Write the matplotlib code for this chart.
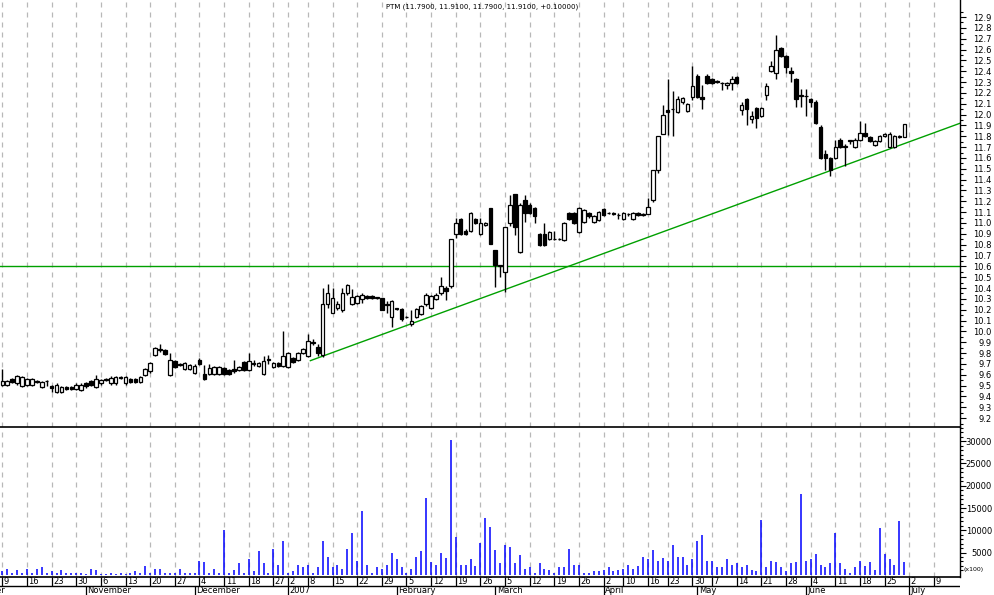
import numpy as np
import matplotlib
matplotlib.use("Agg")
import matplotlib.pyplot as plt

# Dane świecowe PTM (dzień po dniu, tylko dni z notowaniami)
opens = [9.51, 9.51, 9.56, 9.52, 9.50, 9.51, 9.51, 9.54, 9.49, 9.54,
         9.50, 9.44, 9.44, 9.49, 9.49, 9.47, 9.46, 9.52, 9.54, 9.49,
         9.52, 9.56, 9.52, 9.52, 9.57, 9.52, 9.56, 9.56, 9.53, 9.60,
         9.63, 9.78, 9.83, 9.83, 9.60, 9.73, 9.70, 9.65, 9.65, 9.62,
         9.74, 9.61, 9.61, 9.61, 9.61, 9.66, 9.64, 9.65, 9.64, 9.72,
         9.64, 9.71, 9.68, 9.61, 9.74, 9.67, 9.71, 9.68, 9.67, 9.75,
         9.74, 9.80, 9.77, 9.90, 9.86, 9.78, 10.25, 10.17, 10.22, 10.20,
         10.35, 10.25, 10.26, 10.30, 10.33, 10.33, 10.31, 10.31, 10.25, 10.13,
         10.21, 10.21, 10.13, 10.07, 10.13, 10.16, 10.25, 10.22, 10.30, 10.35,
         10.40, 10.42, 10.90, 11.04, 10.93, 10.93, 11.04, 10.90, 10.98, 11.14,
         10.75, 10.61, 10.55, 11.00, 11.27, 10.73, 11.21, 11.17, 11.14, 10.90,
         10.90, 10.85, 10.85, 10.85, 10.84, 11.09, 11.09, 10.92, 11.01, 11.09,
         11.01, 11.03, 11.13, 11.09, 11.09, 11.07, 11.04, 11.08, 11.04, 11.09,
         11.07, 11.08, 11.21, 11.49, 11.82, 12.04, 12.05, 12.02, 12.12, 12.03,
         12.16, 12.36, 12.16, 12.36, 12.33, 12.31, 12.29, 12.27, 12.29, 12.35,
         12.04, 12.14, 11.96, 12.06, 11.99, 12.18, 12.40, 12.38, 12.61, 12.54,
         12.40, 12.33, 12.18, 12.17, 12.14, 12.12, 11.89, 11.64, 11.60, 11.60,
         11.77, 11.70, 11.76, 11.70, 11.77, 11.83, 11.79, 11.72, 11.76, 11.80,
         11.70, 11.70, 11.79, 11.79]
highs = [9.65, 9.55, 9.57, 9.60, 9.59, 9.57, 9.57, 9.55, 9.54, 9.55,
         9.51, 9.52, 9.50, 9.50, 9.50, 9.52, 9.52, 9.53, 9.55, 9.60,
         9.56, 9.57, 9.59, 9.59, 9.59, 9.59, 9.57, 9.57, 9.59, 9.66,
         9.72, 9.86, 9.88, 9.84, 9.80, 9.74, 9.71, 9.72, 9.70, 9.70,
         9.75, 9.69, 9.70, 9.68, 9.68, 9.67, 9.65, 9.74, 9.68, 9.73,
         9.80, 9.74, 9.72, 9.77, 9.78, 9.72, 9.72, 10.00, 9.81, 9.76,
         9.81, 9.85, 9.98, 9.93, 9.88, 10.40, 10.44, 10.40, 10.28, 10.40,
         10.44, 10.39, 10.34, 10.35, 10.34, 10.34, 10.32, 10.31, 10.28, 10.29,
         10.22, 10.22, 10.14, 10.20, 10.22, 10.24, 10.35, 10.34, 10.35, 10.50,
         10.42, 10.85, 11.05, 11.05, 10.94, 11.10, 11.05, 11.05, 11.01, 11.14,
         10.75, 10.61, 10.96, 11.26, 11.27, 11.18, 11.26, 11.18, 11.15, 10.91,
         11.00, 10.93, 10.93, 10.86, 11.01, 11.10, 11.10, 11.15, 11.13, 11.10,
         11.07, 11.11, 11.14, 11.10, 11.10, 11.09, 11.10, 11.09, 11.10, 11.10,
         11.09, 11.23, 11.49, 11.80, 12.09, 12.33, 12.22, 12.17, 12.16, 12.11,
         12.45, 12.37, 12.27, 12.37, 12.34, 12.32, 12.30, 12.30, 12.36, 12.36,
         12.12, 12.15, 12.03, 12.07, 12.07, 12.29, 12.49, 12.73, 12.62, 12.55,
         12.44, 12.34, 12.24, 12.24, 12.15, 12.13, 11.90, 11.67, 11.61, 11.77,
         11.78, 11.73, 11.77, 11.78, 11.94, 11.92, 11.80, 11.77, 11.81, 11.83,
         11.84, 11.81, 11.81, 11.91]
lows = [9.50, 9.50, 9.52, 9.51, 9.49, 9.50, 9.50, 9.52, 9.48, 9.50,
        9.44, 9.43, 9.43, 9.46, 9.46, 9.46, 9.45, 9.48, 9.50, 9.48,
        9.51, 9.54, 9.51, 9.51, 9.56, 9.51, 9.52, 9.52, 9.52, 9.59,
        9.62, 9.77, 9.81, 9.78, 9.59, 9.66, 9.68, 9.64, 9.64, 9.61,
        9.69, 9.55, 9.60, 9.60, 9.60, 9.60, 9.60, 9.62, 9.63, 9.63,
        9.63, 9.68, 9.67, 9.60, 9.70, 9.66, 9.67, 9.67, 9.66, 9.71,
        9.73, 9.79, 9.76, 9.87, 9.77, 9.76, 10.22, 10.17, 10.20, 10.18,
        10.34, 10.24, 10.25, 10.26, 10.30, 10.30, 10.30, 10.20, 10.17, 10.04,
        10.20, 10.10, 10.12, 10.05, 10.12, 10.15, 10.23, 10.21, 10.29, 10.34,
        10.29, 10.40, 10.86, 10.89, 10.89, 10.92, 10.99, 10.89, 10.97, 10.81,
        10.41, 10.50, 10.36, 10.97, 10.89, 10.72, 11.01, 11.08, 11.00, 10.79,
        10.79, 10.84, 10.84, 10.84, 10.83, 11.03, 10.99, 10.91, 11.00, 11.05,
        11.00, 11.02, 11.06, 11.08, 11.07, 11.04, 11.03, 11.06, 11.03, 11.06,
        11.06, 11.08, 11.19, 11.46, 11.82, 11.81, 11.80, 12.01, 12.10, 12.02,
        12.13, 12.15, 12.05, 12.28, 12.28, 12.29, 12.23, 12.24, 12.23, 12.28,
        12.00, 11.90, 11.92, 11.88, 11.98, 12.13, 12.39, 12.33, 12.53, 12.38,
        12.30, 12.07, 12.07, 11.99, 12.07, 11.91, 11.59, 11.49, 11.43, 11.59,
        11.69, 11.53, 11.73, 11.69, 11.76, 11.79, 11.75, 11.71, 11.75, 11.79,
        11.69, 11.69, 11.78, 11.79]
closes = [9.54, 9.54, 9.53, 9.59, 9.58, 9.56, 9.56, 9.53, 9.53, 9.54,
          9.48, 9.51, 9.49, 9.47, 9.47, 9.51, 9.51, 9.50, 9.51, 9.56,
          9.55, 9.55, 9.57, 9.58, 9.58, 9.58, 9.53, 9.53, 9.58, 9.65,
          9.71, 9.85, 9.84, 9.79, 9.74, 9.67, 9.69, 9.71, 9.69, 9.68,
          9.70, 9.56, 9.66, 9.67, 9.67, 9.61, 9.61, 9.63, 9.67, 9.64,
          9.73, 9.70, 9.71, 9.73, 9.74, 9.71, 9.68, 9.77, 9.80, 9.72,
          9.80, 9.84, 9.91, 9.89, 9.80, 10.25, 10.35, 10.31, 10.25, 10.35,
          10.43, 10.32, 10.33, 10.34, 10.31, 10.31, 10.31, 10.20, 10.24, 10.28,
          10.21, 10.11, 10.13, 10.10, 10.21, 10.23, 10.34, 10.33, 10.34, 10.42,
          10.37, 10.85, 11.00, 10.90, 10.90, 11.09, 11.00, 11.00, 11.00, 10.81,
          10.61, 10.60, 10.96, 11.17, 10.96, 11.17, 11.09, 11.09, 11.06, 10.80,
          10.80, 10.92, 10.85, 10.85, 11.00, 11.04, 11.00, 11.14, 11.12, 11.06,
          11.06, 11.10, 11.07, 11.09, 11.08, 11.07, 11.09, 11.08, 11.09, 11.07,
          11.08, 11.15, 11.49, 11.80, 12.00, 12.02, 12.05, 12.14, 12.15, 12.10,
          12.26, 12.16, 12.14, 12.29, 12.29, 12.30, 12.29, 12.29, 12.33, 12.29,
          12.09, 12.05, 11.99, 11.97, 12.06, 12.26, 12.45, 12.60, 12.54, 12.44,
          12.38, 12.14, 12.17, 12.17, 12.12, 11.92, 11.60, 11.60, 11.49, 11.70,
          11.70, 11.71, 11.76, 11.77, 11.83, 11.80, 11.76, 11.76, 11.80, 11.82,
          11.82, 11.80, 11.80, 11.91]
volumes = [750, 1400, 500, 1000, 500, 1400, 500, 1200, 1650, 500,
           750, 500, 1000, 500, 300, 500, 500, 100, 1200, 1000,
           100, 100, 500, 100, 300, 100, 300, 750, 300, 1900,
           500, 1400, 1200, 500, 300, 500, 1200, 500, 500, 300,
           3200, 2800, 500, 1200, 500, 10000, 500, 1000, 2550, 500,
           3450, 750, 5250, 2550, 300, 5700, 2100, 7500, 300, 750,
           2300, 1650, 2100, 300, 1650, 7700, 3900, 1700, 2100, 1200,
           5700, 9300, 3000, 14250, 2100, 500, 1650, 1200, 2100, 5000,
           3450, 1650, 500, 1400, 4100, 5250, 17200, 2800, 2100, 5000,
           3700, 30250, 8400, 2100, 2300, 3450, 1900, 7050, 12700, 10650,
           5500, 2550, 6800, 6150, 2550, 4350, 1400, 1650, 500, 2550,
           1400, 1000, 300, 1650, 1650, 5900, 2300, 2300, 500, 300,
           750, 750, 1000, 1650, 750, 1000, 1200, 2100, 1200, 1900,
           4100, 3450, 5500, 3200, 3700, 3200, 6600, 3900, 4100, 2100,
           3450, 7500, 8850, 3000, 3000, 1650, 1650, 3450, 2100, 2550,
           1650, 2100, 1000, 750, 12250, 1650, 3200, 2800, 1650, 750,
           2550, 2800, 18100, 3000, 3450, 4600, 2300, 1650, 2550, 9300,
           2550, 1200, 500, 1650, 3200, 1900, 2800, 1000, 10450, 4600,
           3450, 2300, 12000, 2800]

# Oś czasu: numery sesji, podpisy tygodni i miesięcy
week_pos = [0, 5, 10, 15, 20, 25, 30, 35, 40, 45, 50, 55, 58, 62, 67, 72, 77,
            82, 87, 92, 97, 102, 107, 112, 117, 122, 126, 131, 135, 140, 144,
            149, 154, 159, 164, 169, 174, 179, 184, 189]
week_lbl = ['9', '16', '23', '30', '6', '13', '20', '27', '4', '11', '18', '27',
            '2', '8', '15', '22', '29', '5', '12', '19', '26', '5', '12', '19',
            '26', '2', '10', '16', '23', '30', '7', '14', '21', '28', '4', '11',
            '18', '25', '2', '9']
month_pos = [17, 39, 58, 80, 100, 122, 141, 163, 184]
month_lbl = ['November', 'December', '2007', 'February', 'March', 'April',
             'May', 'June', 'July']

# Linie trendu
trend_i = [62.5, 194.3]
trend_p = [9.73, 11.92]
support = 10.6

title = 'PTM (11.7900, 11.9100, 11.7900, 11.9100, +0.10000)'

x = np.arange(len(closes))
o = np.array(opens)
c = np.array(closes)
up = c >= o

W, H = 994, 595
fig = plt.figure(figsize=(W / 100, H / 100), dpi=100)
right = 960 / W
ax = fig.add_axes([0, 1 - 427 / H, right, 427 / H])
axv = fig.add_axes([0, 1 - 577 / H, right, 150 / H], sharex=ax)
axd = fig.add_axes([0, 0, right, 18 / H], sharex=ax)
axv.patch.set_visible(False)

xmin, xmax = -0.47, 194.3
grid_kw = dict(color='#b8b8b8', linestyle=(0, (4, 4)), linewidth=0.9, zorder=0)
for a in (ax, axv):
    for p in week_pos:
        a.axvline(p, **grid_kw)
    for s in ('top', 'left'):
        a.spines[s].set_visible(False)
    a.spines['right'].set_linewidth(1)
    a.spines['bottom'].set_linewidth(1.2)
    a.spines['bottom'].set_zorder(5)
    a.yaxis.tick_right()
    a.tick_params(axis='x', which='both', bottom=False, labelbottom=False)
    a.tick_params(axis='y', which='major', length=4, width=0.8, labelsize=6,
                  pad=19, direction='out')
    a.tick_params(axis='y', which='minor', length=2, width=0.8)

# Wykres świecowy
ax.axhline(support, color='#00a000', linewidth=1, zorder=1)
ax.plot(trend_i, trend_p, color='#00a000', linewidth=1, zorder=1)
ax.vlines(x, lows, highs, color='black', linewidth=1, zorder=2)
body_low = np.minimum(o, c)
body_h = np.maximum(np.abs(c - o), 0.005)
ax.bar(x, body_h, bottom=body_low, width=0.72,
       color=np.where(up, 'white', 'black'), edgecolor='black',
       linewidth=0.9, zorder=3)
ax.set_xlim(xmin, xmax)
ax.set_ylim(9.118, 13.057)
ax.set_yticks(np.round(np.arange(9.2, 12.95, 0.1), 1))
ax.set_yticks(np.arange(9.15, 13.0, 0.1), minor=True)
ax.set_yticklabels([f'{v:.1f}' for v in np.arange(9.2, 12.95, 0.1)], ha='right')

# Wolumen
axv.vlines(x, 0, volumes, color='#0000ff', linewidth=1.1, zorder=2)
axv.set_ylim(-500, 33200)
axv.set_yticks(range(5000, 30001, 5000))
axv.set_yticks(range(1000, 33001, 1000), minor=True)
axv.set_yticklabels([str(v) for v in range(5000, 30001, 5000)], ha='right')
fig.text(963 / W, 1 - 569 / H, '(x100)', fontsize=4.5, va='center', ha='left')

# Pasek dat
axd.set_ylim(0, 1)
axd.axis('off')
axd.axhline(0.5, color='black', linewidth=1)
axd.vlines(week_pos, 0.5, 1, color='black', linewidth=0.9)
axd.vlines(month_pos, 0, 0.5, color='black', linewidth=0.9)
for p, lbl in zip(week_pos, week_lbl):
    axd.text(p + 0.3, 0.76, lbl, fontsize=6, ha='left', va='center')
for p, lbl in zip(month_pos, month_lbl):
    axd.text(p + 0.3, 0.24, lbl, fontsize=6, ha='left', va='center')
axd.text(0.5, 0.24, 'October', fontsize=6, ha='right', va='center', clip_on=True)

fig.text(386 / W, 1 - 7 / H, title, fontsize=5.0, ha='left', va='center')

fig.savefig('out.png', dpi=100)
